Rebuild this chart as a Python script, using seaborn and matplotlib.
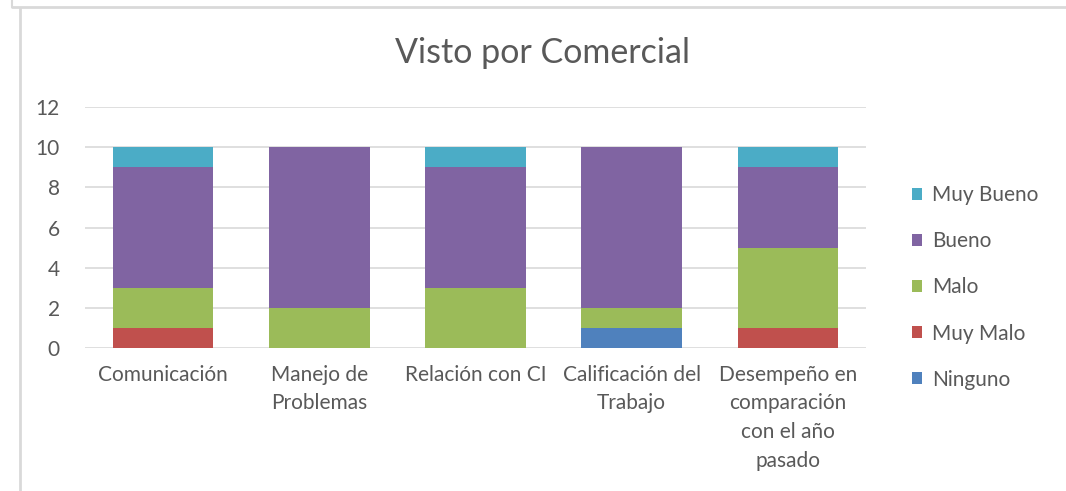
import matplotlib
matplotlib.use("Agg")
import matplotlib.pyplot as plt
import seaborn as sns
import numpy as np
import pandas as pd
from matplotlib.lines import Line2D
from matplotlib.patches import Patch

categories = ["Comunicación", "Manejo de\nProblemas", "Relación con CI",
              "Calificación del\nTrabajo", "Desempeño en\ncomparación\ncon el año\npasado"]
series_names = ["Ninguno", "Muy Malo", "Malo", "Bueno", "Muy Bueno"]
ninguno = [0, 0, 0, 1, 0]
muy_malo = [1, 0, 0, 0, 1]
malo = [2, 2, 3, 1, 4]
bueno = [6, 8, 6, 8, 4]
muy_bueno = [1, 0, 1, 0, 1]
colors = ["#4F81BD", "#C0504D", "#9BBB59", "#8064A2", "#4BACC6"]
yticks = [0, 2, 4, 6, 8, 10, 12]
title = "Visto por Comercial"

sns.set_style("white")
plt.rcParams['font.family'] = ['Lato', 'DejaVu Sans']
text_color = "#595959"
fs = 15

fig = plt.figure(figsize=(10.66, 4.91), dpi=100)
ax = fig.add_axes([0.0797, 0.2912, 0.7327, 0.4909])

values = [ninguno, muy_malo, malo, bueno, muy_bueno]
cum = np.cumsum(np.array(values, dtype=float), axis=0)

# draw from top layer down so lower layers sit on top of higher cumulative bars
for i in range(len(series_names) - 1, -1, -1):
    df = pd.DataFrame({"cat": categories, "val": cum[i]})
    sns.barplot(data=df, x="cat", y="val", color=colors[i], width=0.645,
                saturation=1, ax=ax, errorbar=None, zorder=3, linewidth=0)

ax.set_xlim(-0.5, len(categories) - 0.5)
ax.set_ylim(0, 12)
ax.set_yticks(yticks)
ax.set_yticklabels([str(t) for t in yticks])
ax.yaxis.grid(True, color="#D9D9D9", linewidth=1.2, zorder=0)
ax.set_axisbelow(True)
for s in ax.spines.values():
    s.set_visible(False)
ax.set_xlabel("")
ax.set_ylabel("")
ax.tick_params(axis="both", length=0, labelsize=fs, colors=text_color)
ax.tick_params(axis="y", pad=18)
ax.tick_params(axis="x", pad=12)
for lbl in ax.get_xticklabels():
    lbl.set_linespacing(1.55)

fig.text(0.509, 0.892, title, ha="center", va="center", fontsize=24.5, color=text_color)

handles = [Patch(facecolor=colors[i], edgecolor="none") for i in range(len(series_names) - 1, -1, -1)]
labels = [series_names[i] for i in range(len(series_names) - 1, -1, -1)]
leg = fig.legend(handles, labels, loc="center left", bbox_to_anchor=(0.838, 0.4145),
                 frameon=False, fontsize=fs, handlelength=0.5, handleheight=0.5,
                 handletextpad=0.45, labelspacing=1.25)
for t in leg.get_texts():
    t.set_color(text_color)

# chart frame lines
fig.add_artist(Line2D([20/1066, 20/1066], [1 - 8/491, 0], transform=fig.transFigure,
                      color="#D9D9D9", linewidth=2))
fig.add_artist(Line2D([12/1066, 1], [1 - 7/491, 1 - 7/491], transform=fig.transFigure,
                      color="#D9D9D9", linewidth=2))
fig.add_artist(Line2D([12/1066, 12/1066], [1, 1 - 7/491], transform=fig.transFigure,
                      color="#D9D9D9", linewidth=1.5))

fig.savefig("out.png", dpi=100)
